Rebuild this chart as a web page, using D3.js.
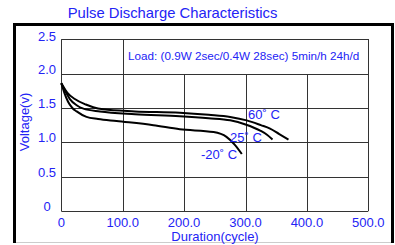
<!DOCTYPE html>
<html>
<head>
<meta charset="utf-8">
<script src="https://cdn.jsdelivr.net/npm/d3@7"></script>
<style>
body { margin: 0; background: #fff; }
text { font-family: "Liberation Sans", Arial, sans-serif; }
</style>
</head>
<body>
<div id="chart"></div>
<script>
// data
var x_ticks = [0, 100, 200, 300, 400, 500];
var x_labels = ["0", "100.0", "200.0", "300.0", "400.0", "500.0"];
var y_ticks = [0, 0.5, 1.0, 1.5, 2.0, 2.5];
var y_labels = ["0", "0.5", "1.0", "1.5", "2.0", "2.5"];

var names = ["60\u02da C", "25\u02da C", "-20\u02da C"];

var hot = [[0, 1.86], [10, 1.72], [22, 1.63], [40, 1.55], [52, 1.51], [68, 1.48],
           [120, 1.45], [193, 1.43], [240, 1.40], [275, 1.37], [302, 1.32],
           [325, 1.25], [340, 1.20], [355, 1.12], [370, 1.04]];
var room = [[0, 1.86], [8, 1.72], [14, 1.63], [25, 1.54], [36, 1.49], [63, 1.45],
            [120, 1.41], [193, 1.38], [240, 1.35], [275, 1.32], [300, 1.26],
            [324, 1.17], [335, 1.11], [344, 1.04]];
var cold = [[0, 1.86], [5, 1.72], [11, 1.59], [18, 1.50], [25, 1.45], [41, 1.37],
            [60, 1.34], [90, 1.31], [150, 1.25], [193, 1.19], [248, 1.15],
            [269, 1.08], [283, 0.96], [294, 0.83]];
var series = [hot, room, cold];

var load_text = "Load: (0.9W 2sec/0.4W 28sec) 5min/h 24h/d";
var title_text = "Pulse Discharge Characteristics";

var blue = "#2323f5";
var W = 395, H = 245;

var svg = d3.select("#chart")
    .append("svg")
    .attr("width", W)
    .attr("height", H);

// outer frame
svg.append("path")
    .attr("d", "M14.5,243 L14.5,24.5 L392.5,24.5 L392.5,243")
    .attr("fill", "none")
    .attr("stroke", "#000")
    .attr("stroke-width", 3);
svg.append("line")
    .attr("x1", 16).attr("x2", 391)
    .attr("y1", 242.5).attr("y2", 242.5)
    .attr("stroke", "#ccc");

svg.append("text")
    .attr("x", 172.5).attr("y", 18)
    .attr("text-anchor", "middle")
    .attr("font-size", 14.8)
    .attr("fill", blue)
    .text(title_text);

var scale_x = d3.scaleLinear().domain([0, 500]).range([61.3, 368.3]);
var scale_y = d3.scaleLinear().domain([0, 2.5]).range([211, 39.3]);

var grid = svg.append("g")
    .attr("stroke", "#333")
    .attr("stroke-width", 1);

grid.selectAll("line.v")
    .data(x_ticks)
    .enter()
    .append("line")
    .attr("x1", function(d) { return Math.round(scale_x(d)) + 0.5 })
    .attr("x2", function(d) { return Math.round(scale_x(d)) + 0.5 })
    .attr("y1", scale_y(0))
    .attr("y2", scale_y(2.5));

grid.selectAll("line.h")
    .data(y_ticks)
    .enter()
    .append("line")
    .attr("y1", function(d) { return Math.round(scale_y(d)) + 0.5 })
    .attr("y2", function(d) { return Math.round(scale_y(d)) + 0.5 })
    .attr("x1", scale_x(0))
    .attr("x2", scale_x(500));

// legend box covers the grid between 100 and 500 above 2.0
var bx = Math.round(scale_x(100)) + 0.5, by = Math.round(scale_y(2.5)) + 0.5;
svg.append("rect")
    .attr("x", bx).attr("y", by)
    .attr("width", Math.round(scale_x(500)) + 0.5 - bx)
    .attr("height", Math.round(scale_y(2.0)) + 0.5 - by)
    .attr("fill", "#fff")
    .attr("stroke", "#333");

svg.append("text")
    .attr("x", 128).attr("y", 60)
    .attr("font-size", 11.7)
    .attr("fill", blue)
    .text(load_text);

// tick labels
svg.append("g")
    .selectAll("text")
    .data(y_ticks)
    .enter()
    .append("text")
    .attr("x", 47)
    .attr("y", function(d, i) { return scale_y(d) + (i == 5 ? 2 : 0) })
    .attr("text-anchor", "middle")
    .attr("font-size", 13)
    .attr("fill", blue)
    .text(function(d, i) { return y_labels[i] });

svg.append("g")
    .selectAll("text")
    .data(x_ticks)
    .enter()
    .append("text")
    .attr("x", function(d) { return scale_x(d) })
    .attr("y", 227)
    .attr("text-anchor", "middle")
    .attr("font-size", 13)
    .attr("fill", blue)
    .text(function(d, i) { return x_labels[i] });

svg.append("text")
    .attr("x", 215).attr("y", 241)
    .attr("text-anchor", "middle")
    .attr("font-size", 13)
    .attr("fill", blue)
    .text("Duration(cycle)");

svg.append("text")
    .attr("transform", "translate(29,122) rotate(-90)")
    .attr("text-anchor", "middle")
    .attr("font-size", 13)
    .attr("fill", blue)
    .text("Voltage(v)");

// discharge curves
var line = d3.line()
    .x(function(d) { return scale_x(d[0]) })
    .y(function(d) { return scale_y(d[1]) })
    .curve(d3.curveMonotoneX);

svg.append("g")
    .selectAll("path")
    .data(series)
    .enter()
    .append("path")
    .attr("d", line)
    .attr("fill", "none")
    .attr("stroke", "#000")
    .attr("stroke-width", 2);

// curve labels
var label_pos = [[248, 119], [230, 142], [201, 159]];
svg.append("g")
    .selectAll("text")
    .data(names)
    .enter()
    .append("text")
    .attr("x", function(d, i) { return label_pos[i][0] })
    .attr("y", function(d, i) { return label_pos[i][1] })
    .attr("font-size", 13)
    .attr("fill", blue)
    .text(function(d) { return d });
</script>
</body>
</html>
